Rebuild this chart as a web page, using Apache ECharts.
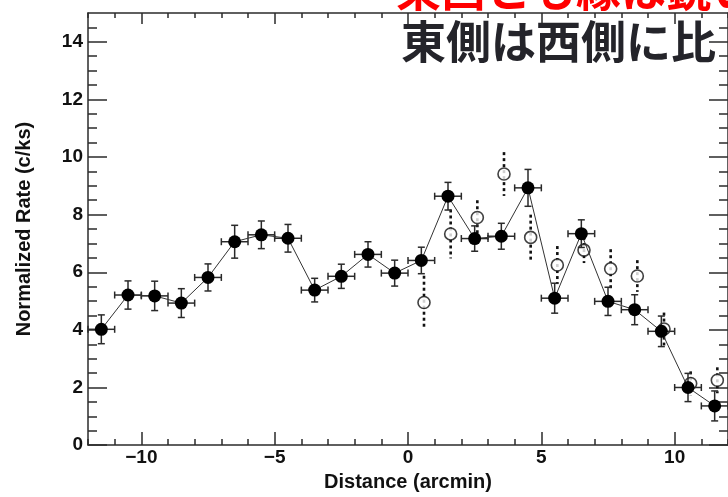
<!DOCTYPE html>
<html>
<head>
<meta charset="utf-8">
<script src="https://cdn.jsdelivr.net/npm/echarts@6/dist/echarts.min.js"></script>
<style>
  html, body { margin: 0; padding: 0; background: #ffffff; }
  #chart { width: 728px; height: 497px; }
</style>
</head>
<body>
<div id="chart"></div>
<script>
// Surface-brightness profile: filled points (with bin widths) and open comparison points
const binCenters = [-11.5, -10.5, -9.5, -8.5, -7.5, -6.5, -5.5, -4.5, -3.5, -2.5, -1.5, -0.5,
                    0.5, 1.5, 2.5, 3.5, 4.5, 5.5, 6.5, 7.5, 8.5, 9.5, 10.5, 11.5];
const rateFilled = [4.02, 5.21, 5.18, 4.93, 5.82, 7.06, 7.30, 7.18, 5.38, 5.86, 6.62, 5.97,
                    6.41, 8.64, 7.17, 7.25, 8.93, 5.10, 7.34, 4.99, 4.70, 3.95, 2.00, 1.36];
const errFilled  = [0.50, 0.49, 0.51, 0.50, 0.47, 0.57, 0.48, 0.48, 0.41, 0.42, 0.44, 0.45,
                    0.46, 0.48, 0.44, 0.45, 0.64, 0.52, 0.48, 0.49, 0.52, 0.53, 0.49, 0.52];
const binHalfWidth = 0.5;

const openCenters = [0.6, 1.6, 2.6, 3.6, 4.6, 5.6, 6.6, 7.6, 8.6, 9.6, 10.6, 11.6];
const rateOpen    = [4.95, 7.33, 7.90, 9.41, 7.21, 6.25, 6.77, 6.12, 5.87, 4.03, 2.14, 2.25];
const errOpen     = [0.93, 0.85, 0.60, 0.76, 0.79, 0.66, 0.45, 0.68, 0.55, 0.57, 0.42, 0.45];

// Axis ticks
const xMajorTicks = [-10, -5, 0, 5, 10];
const xMinorTicks = [-12, -11, -9, -8, -7, -6, -4, -3, -2, -1, 1, 2, 3, 4, 6, 7, 8, 9, 11, 12];
const yMajorTicks = [0, 2, 4, 6, 8, 10, 12, 14];
const yMinorTicks = [0.5, 1, 1.5, 2.5, 3, 3.5, 4.5, 5, 5.5, 6.5, 7, 7.5, 8.5, 9, 9.5,
                     10.5, 11, 11.5, 12.5, 13, 13.5, 14.5];

const xTitle = 'Distance (arcmin)';
const yTitle = 'Normalized Rate (c/ks)';
const headlineRed = '東西とも縁は鋭い';
const headlineBlack = '東側は西側に比';

const AXIS_FONT = "'Liberation Sans', Arial, Helvetica, sans-serif";
const AXIS_COLOR = '#2b2b2b';

function fmtTick(v) {
  return v < 0 ? '\u2212' + Math.abs(v) : String(v);
}

function tickAxis(min, max, position, values, len, showLine) {
  return {
    type: 'value', position: position, min: min, max: max, gridIndex: 0,
    axisLine: { show: !!showLine, onZero: false, lineStyle: { color: AXIS_COLOR, width: 1.5 } },
    axisTick: { show: true, inside: true, length: len, customValues: values,
                lineStyle: { color: AXIS_COLOR, width: 1.5 } },
    axisLabel: { show: false },
    splitLine: { show: false }
  };
}

function segment(x1, y1, x2, y2, style) {
  return { type: 'line', shape: { x1: x1, y1: y1, x2: x2, y2: y2 },
           style: Object.assign({ fill: null }, style) };
}

function renderFilledErr(params, api) {
  const x = api.value(0), y = api.value(1), ey = api.value(2), ex = api.value(3);
  const top = api.coord([x, y + ey]);
  const bot = api.coord([x, y - ey]);
  const lft = api.coord([x - ex, y]);
  const rgt = api.coord([x + ex, y]);
  const cap = 3.5;
  const st = { stroke: '#2a2a2a', lineWidth: 1.5 };
  return {
    type: 'group',
    children: [
      segment(top[0], top[1], bot[0], bot[1], st),
      segment(top[0] - cap, top[1], top[0] + cap, top[1], st),
      segment(bot[0] - cap, bot[1], bot[0] + cap, bot[1], st),
      segment(lft[0], lft[1], rgt[0], rgt[1], st),
      segment(lft[0], lft[1] - cap, lft[0], lft[1] + cap, st),
      segment(rgt[0], rgt[1] - cap, rgt[0], rgt[1] + cap, st)
    ]
  };
}

function renderOpenErr(params, api) {
  const x = api.value(0), y = api.value(1), ey = api.value(2);
  const top = api.coord([x, y + ey]);
  const bot = api.coord([x, y - ey]);
  return segment(top[0], top[1], bot[0], bot[1],
                 { stroke: '#111111', lineWidth: 2.6, lineDash: [3, 3] });
}

const filledPoints = binCenters.map((x, i) => [x, rateFilled[i]]);
const filledErrData = binCenters.map((x, i) => [x, rateFilled[i], errFilled[i], binHalfWidth]);
const openPoints = openCenters.map((x, i) => [x, rateOpen[i]]);
const openErrData = openCenters.map((x, i) => [x, rateOpen[i], errOpen[i]]);

const chart = echarts.init(document.getElementById('chart'), null, { renderer: 'canvas' });

chart.setOption({
  animation: false,
  backgroundColor: '#ffffff',
  grid: { left: 88, right: -3, top: 13, bottom: 49, containLabel: false },
  xAxis: [
    {
      type: 'value', position: 'bottom', min: -12, max: 12,
      axisLine: { show: true, onZero: false, lineStyle: { color: AXIS_COLOR, width: 1.5 } },
      axisTick: { show: true, inside: true, length: 13, customValues: xMajorTicks,
                  lineStyle: { color: AXIS_COLOR, width: 1.5 } },
      axisLabel: { show: true, customValues: xMajorTicks, formatter: fmtTick, margin: 3,
                   color: '#111', fontSize: 19, fontWeight: 'bold', fontFamily: AXIS_FONT },
      splitLine: { show: false },
      name: xTitle, nameLocation: 'middle', nameGap: 23,
      nameTextStyle: { color: '#111', fontSize: 20, fontWeight: 'bold', fontFamily: AXIS_FONT }
    },
    tickAxis(-12, 12, 'bottom', xMinorTicks, 6, false),
    tickAxis(-12, 12, 'top', xMajorTicks, 11, true),
    tickAxis(-12, 12, 'top', xMinorTicks, 5, false)
  ],
  yAxis: [
    {
      type: 'value', position: 'left', min: 0, max: 15,
      axisLine: { show: true, onZero: false, lineStyle: { color: AXIS_COLOR, width: 1.5 } },
      axisTick: { show: true, inside: true, length: 19, customValues: yMajorTicks,
                  lineStyle: { color: AXIS_COLOR, width: 1.5 } },
      axisLabel: { show: true, customValues: yMajorTicks, margin: 5,
                   color: '#111', fontSize: 19, fontWeight: 'bold', fontFamily: AXIS_FONT },
      splitLine: { show: false },
      name: yTitle, nameLocation: 'middle', nameGap: 54, nameRotate: 90,
      nameTextStyle: { color: '#111', fontSize: 20, fontWeight: 'bold', fontFamily: AXIS_FONT }
    },
    tickAxis(0, 15, 'left', yMinorTicks, 9, false),
    tickAxis(0, 15, 'right', yMajorTicks, 19, true),
    tickAxis(0, 15, 'right', yMinorTicks, 9, false)
  ],
  series: [
    {
      name: 'open-err', type: 'custom', xAxisIndex: 0, yAxisIndex: 0,
      renderItem: renderOpenErr, data: openErrData, z: 2,
      encode: { x: 0, y: 1 }
    },
    {
      name: 'open', type: 'scatter', xAxisIndex: 0, yAxisIndex: 0,
      data: openPoints, symbol: 'circle', symbolSize: 12, z: 3,
      itemStyle: { color: '#ffffff', borderColor: '#111111', borderWidth: 1.6 }
    },
    {
      name: 'filled-err', type: 'custom', xAxisIndex: 0, yAxisIndex: 0,
      renderItem: renderFilledErr, data: filledErrData, z: 4,
      encode: { x: 0, y: 1 }
    },
    {
      name: 'filled', type: 'line', xAxisIndex: 0, yAxisIndex: 0,
      data: filledPoints, symbol: 'circle', symbolSize: 13, showSymbol: true, z: 5,
      itemStyle: { color: '#000000' },
      lineStyle: { color: '#333333', width: 1 }
    }
  ],
  graphic: [
    {
      type: 'text', left: 396, top: -33, z: 20,
      style: { text: headlineRed, fill: '#ff0000', fontSize: 45, fontWeight: 'bold',
               fontFamily: "'Noto Sans CJK JP', sans-serif" }
    },
    {
      type: 'text', left: 401, top: 19, z: 20,
      style: { text: headlineBlack, fill: '#24242a', fontSize: 45, fontWeight: 'bold',
               fontFamily: "'Noto Sans CJK JP', sans-serif" }
    }
  ]
});
</script>
</body>
</html>
